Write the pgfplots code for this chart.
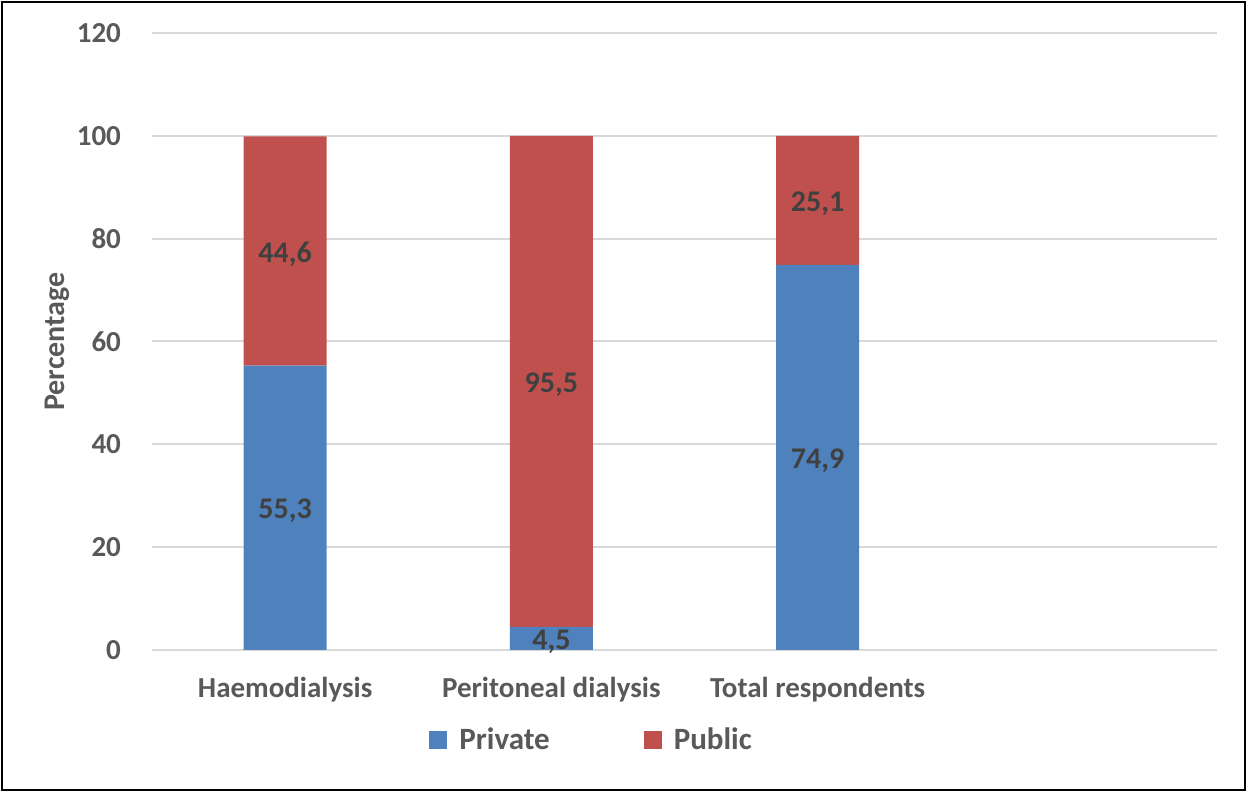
\documentclass[border=0pt]{standalone}
\usepackage{fontspec}
\setmainfont{Carlito}
\usepackage{pgfplots}
\pgfplotsset{compat=1.18}
\definecolor{cblue}{HTML}{4F81BD}
\definecolor{cred}{HTML}{C0504D}
\definecolor{tgray}{HTML}{595959}
\definecolor{lgray}{HTML}{404040}
\definecolor{gridc}{HTML}{D9D9D9}
\tikzset{dlab/.style={font=\fontsize{15}{17}\selectfont\bfseries, text=lgray, yshift=-1.5pt}}
\begin{document}
\begin{tikzpicture}
\path[use as bounding box] (0,0) rectangle (623.5pt,396pt);
\draw[line width=1pt, black] (1pt,1pt) rectangle (622.5pt,395pt);
\begin{axis}[
  at={(76pt,71pt)}, anchor=south west,
  scale only axis, width=532.5pt, height=308.5pt,
  ybar stacked, bar width=41.5pt,
  xmin=-0.5, xmax=3.5, ymin=0, ymax=120,
  ytick={0,20,...,120},
  xtick={0,1,2},
  xticklabels={Haemodialysis,Peritoneal dialysis,Total respondents},
  axis line style={draw=none},
  major tick length=0pt,
  ymajorgrids, grid style={draw=gridc, line width=1pt},
  /pgf/number format/assume math mode=true,
  ticklabel style={font=\fontsize{14.5}{16}\selectfont\bfseries, text=tgray},
  yticklabel style={xshift=-12pt},
  xticklabel style={yshift=-10pt},
  ylabel={Percentage},
  ylabel style={font=\fontsize{15}{17}\selectfont\bfseries, text=tgray, at={(-0.089,0.5)}, anchor=center},
  legend style={at={(0.4137,-0.146)}, anchor=center, draw=none, legend columns=2,
    font=\fontsize{15.5}{17}\selectfont\bfseries, text=tgray,
    /tikz/every odd column/.append style={column sep=4pt},
    /tikz/every even column/.append style={column sep=45pt}},
  legend image code/.code={\fill[#1] (0pt,-4.5pt) rectangle (9pt,4.5pt);},
  after end axis/.append code={
    \node[dlab] at (axis cs:0,27.65) {55,3};
    \node[dlab] at (axis cs:0,77.6) {44,6};
    \node[dlab] at (axis cs:1,2.25) {4,5};
    \node[dlab] at (axis cs:1,52.25) {95,5};
    \node[dlab] at (axis cs:2,37.45) {74,9};
    \node[dlab] at (axis cs:2,87.45) {25,1};
  },
]
\addplot[fill=cblue, draw=none] coordinates {(0,55.3) (1,4.5) (2,74.9)};
\addlegendentry{Private}
\addplot[fill=cred, draw=none] coordinates {(0,44.6) (1,95.5) (2,25.1)};
\addlegendentry{Public}
\end{axis}
\end{tikzpicture}
\end{document}
